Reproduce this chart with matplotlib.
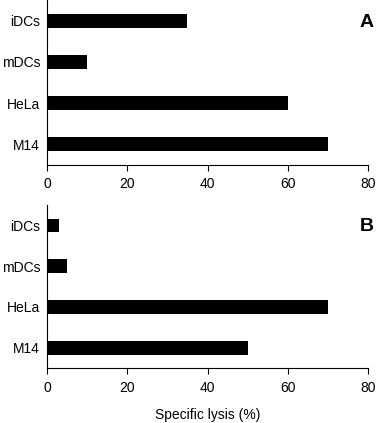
import matplotlib
matplotlib.use("Agg")
import matplotlib.pyplot as plt

plt.rcParams['font.family'] = ['Liberation Sans', 'DejaVu Sans']

cells = ['iDCs', 'mDCs', 'HeLa', 'M14']
lysis_a = [35, 10, 60, 70]
lysis_b = [3, 5, 70, 50]
panels = ['A', 'B']
xticks = [0, 20, 40, 60, 80]

fig = plt.figure(figsize=(3.79, 4.23), dpi=100)
ax_a = fig.add_axes([0.124, 0.610, 0.847, 0.390])
ax_b = fig.add_axes([0.124, 0.130, 0.847, 0.385])

for ax, vals, lab in zip([ax_a, ax_b], [lysis_a, lysis_b], panels):
    ax.barh(cells, vals, height=0.34, color='black')
    ax.set_xlim(0, 80)
    ax.set_ylim(3.5, -0.5)
    ax.set_xticks(xticks)
    ax.spines['top'].set_visible(False)
    ax.spines['right'].set_visible(False)
    ax.spines['left'].set_linewidth(0.8)
    ax.spines['bottom'].set_linewidth(0.8)
    ax.tick_params(axis='x', length=4, width=0.8, pad=5, labelsize=10)
    ax.tick_params(axis='y', length=0, pad=5, labelsize=10)
    ax.text(1.0, 0.0, lab, transform=ax.transAxes, fontsize=14,
            fontweight='bold', ha='center', va='center')

ax_a.texts[0].set_position((0.995, 0.866))
ax_b.texts[0].set_position((0.995, 0.868))
ax_b.set_xlabel('Specific lysis (%)', fontsize=10, labelpad=10)

fig.savefig('out.png', dpi=100)
